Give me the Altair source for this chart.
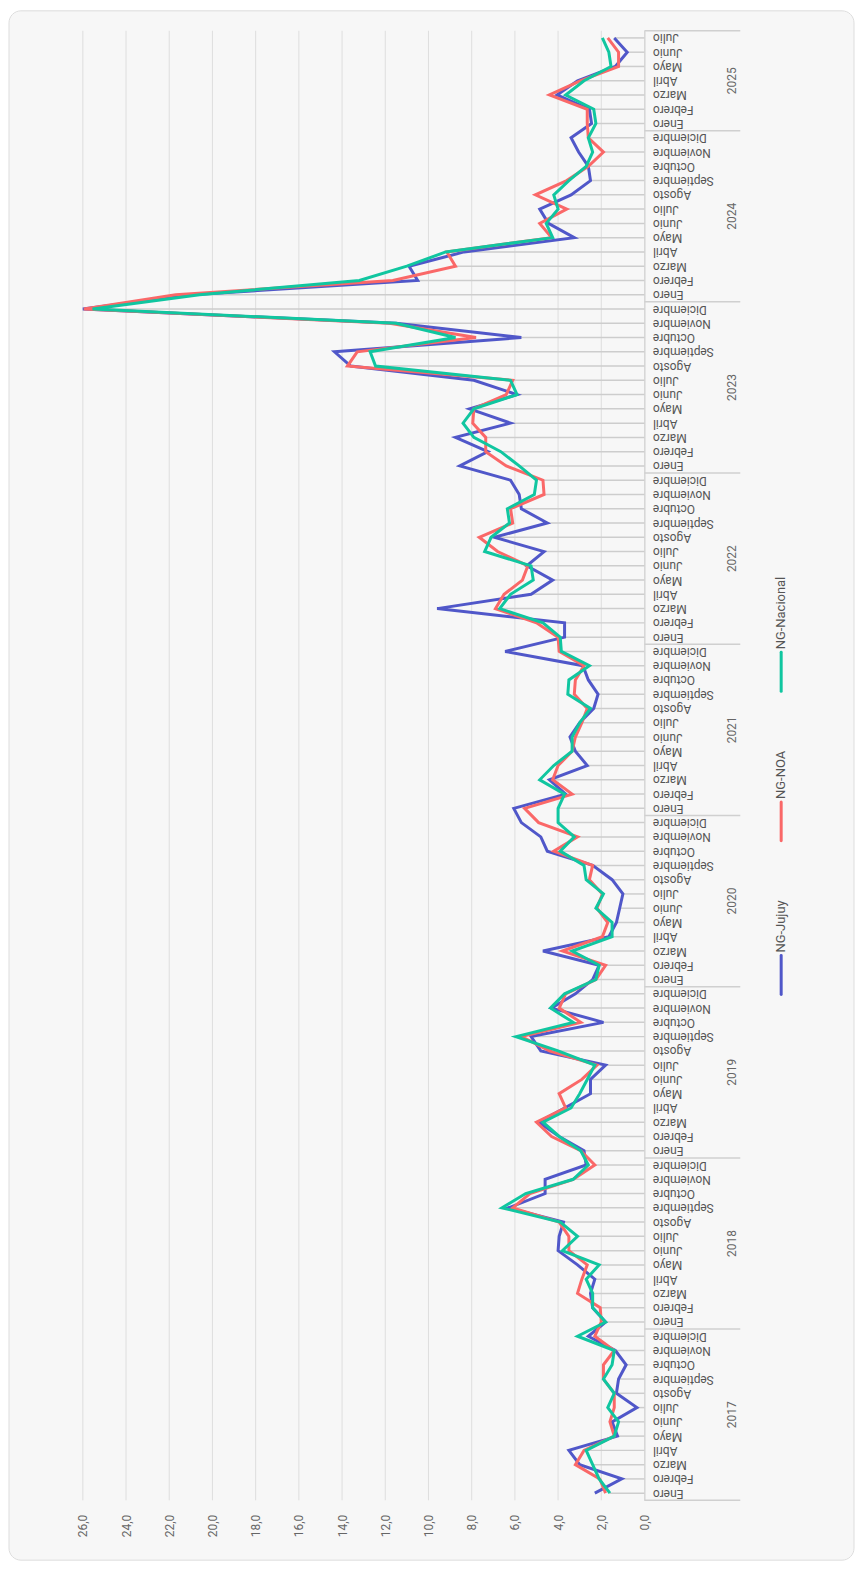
import altair as alt
import pandas as pd

meses = ["Enero", "Febrero", "Marzo", "Abril", "Mayo", "Junio", "Julio",
         "Agosto", "Septiembre", "Octubre", "Noviembre", "Diciembre"]
anios = [2017, 2018, 2019, 2020, 2021, 2022, 2023, 2024, 2025]
series = ["NG-Jujuy", "NG-NOA", "NG-Nacional"]
colores = ["#5057c9", "#fa6868", "#10c6a0"]
ticks_valor = [0, 2, 4, 6, 8, 10, 12, 14, 16, 18, 20, 22, 24, 26]

jujuy = [
    2.3, 1.05, 3.0, 3.5, 1.25, 1.5, 0.35, 1.3, 1.2, 0.85, 1.35, 2.6,
    1.8, 2.4, 2.5, 2.3, 3.1, 4.0, 3.95, 3.75, 6.3, 4.6, 4.6, 2.7,
    2.8, 3.95, 4.9, 3.7, 2.5, 2.5, 1.8, 4.8, 5.25, 1.9, 4.3, 3.2,
    2.4, 2.1, 4.7, 1.65, 1.3, 1.15, 1.0, 1.5, 2.4, 4.5, 4.8, 5.7,
    6.05, 3.65, 4.4, 2.65, 3.2, 3.45, 3.0, 2.35, 2.15, 2.6, 2.85, 6.45,
    3.7, 3.7, 9.6, 5.25, 4.25, 5.45, 4.65, 6.95, 4.5, 5.7, 5.8, 6.2,
    8.55, 7.25, 8.75, 6.2, 8.1, 5.9, 7.9, 13.6, 14.35, 5.7, 11.5, 26.0,
    21.0, 10.5, 10.9, 8.35, 3.25, 4.45, 4.85, 3.4, 2.5, 2.6, 3.05, 3.4,
    2.45, 2.55, 4.05, 3.1, 1.35, 0.8, 1.4,
]
noa = [
    1.8, 2.07, 3.2, 2.8, 1.4, 1.6, 1.4, 1.4, 1.9, 1.9, 1.4, 2.3,
    2.0, 2.05, 3.1, 2.9, 2.65, 3.5, 3.5, 3.95, 6.1, 5.3, 3.3, 2.3,
    2.95, 4.3, 5.0, 3.65, 3.95, 2.9, 2.2, 4.4, 5.7, 2.95, 3.95, 3.65,
    2.25, 1.8, 3.8, 1.95, 1.7, 2.2, 1.95, 2.55, 2.4, 4.2, 3.1, 4.9,
    5.55, 3.35, 4.25, 4.0, 3.35, 3.2, 2.9, 2.65, 3.25, 3.2, 2.8, 3.95,
    4.0, 5.0, 6.9, 6.5, 5.65, 5.4, 6.8, 7.65, 6.1, 6.2, 4.65, 4.7,
    6.4, 7.35, 7.35, 7.95, 7.9, 6.4, 6.1, 13.75, 13.3, 7.8, 11.8, 25.95,
    21.7, 11.65, 8.75, 9.15, 4.3, 4.85, 3.6, 5.05, 3.6, 2.6, 1.9, 2.6,
    2.65, 2.65, 4.4, 2.95, 1.2, 1.2, 1.7,
]
nacional = [
    1.6, 2.1, 2.4, 2.7, 1.4, 1.2, 1.7, 1.4, 1.9, 1.5, 1.4, 3.1,
    1.8, 2.4, 2.4, 2.7, 2.1, 3.8, 3.1, 3.9, 6.6, 5.5, 3.3, 2.6,
    2.95, 3.95, 4.7, 3.4, 3.0, 2.65, 2.3, 4.0, 5.95, 3.3, 4.35, 3.7,
    2.25, 2.1, 3.35, 1.5, 1.5, 2.25, 1.9, 2.7, 2.8, 3.9, 3.25, 4.0,
    4.0, 3.7, 4.85, 4.2, 3.35, 3.35, 3.0, 2.5, 3.55, 3.5, 2.55, 3.85,
    3.9, 4.7, 6.7, 6.2, 5.15, 5.25, 7.4, 7.1, 6.25, 6.35, 5.1, 5.0,
    5.8, 6.65, 7.9, 8.4, 7.9, 5.9, 6.2, 12.45, 12.7, 8.75, 11.5, 25.55,
    20.6, 13.2, 11.0, 9.2, 4.25, 4.55, 4.0, 4.2, 3.5, 2.7, 2.4, 2.6,
    2.25, 2.35, 3.65, 2.8, 1.55, 1.65, 1.95,
]

# month keys (Enero 2017 .. Julio 2025)
keys = []
for a in anios:
    for m in range(1, 13):
        if a == 2025 and m > 7:
            break
        keys.append(f"{a}-{m:02d}")

rows = []
for s, vals in zip(series, [jujuy, noa, nacional]):
    for i, (k, v) in enumerate(zip(keys, vals)):
        rows.append({"key": k, "idx": i, "serie": s, "valor": v})
df = pd.DataFrame(rows)

W = 563
H = 1473
N = len(keys)
half = H / N / 2
dominio = list(reversed(keys))

xscale = alt.Scale(domain=[0, 26], reverse=True, nice=False, zero=True)
yscale = alt.Scale(type="point", padding=0.5, domain=dominio)

month_expr = "[" + ",".join(f"'{m}'" for m in meses) + "][toNumber(slice(datum.value, 5)) - 1]"

x_axis = alt.Axis(values=ticks_valor, labelExpr="replace(format(datum.value, '.1f'), '.', ',')",
                  labelAngle=270, labelAlign="right", labelBaseline="middle",
                  labelPadding=14, ticks=False, tickSize=0, domain=False, grid=False,
                  title=None, labelFontSize=12, labelColor="#666666", zindex=1)
y_axis = alt.Axis(orient="right", labelExpr=month_expr, labelAngle=180, labelAlign="right",
                  labelBaseline="middle", labelPadding=8, ticks=False, tickSize=0,
                  domainColor="#d0d0d0", grid=False, title=None, labelOverlap=False,
                  labelFontSize=12, labelColor="#555555", zindex=1)

card = alt.Chart(pd.DataFrame({"a": [0]})).mark_rect(
    fill="#f7f7f7", stroke="#dddddd", strokeWidth=1, cornerRadius=12
).encode(x=alt.value(-74), x2=alt.value(773), y=alt.value(-20), y2=alt.value(1533))

grid = alt.Chart(pd.DataFrame({"v": ticks_valor})).mark_rule(
    color="#dedede", strokeWidth=1
).encode(x=alt.X("v:Q", scale=xscale, axis=x_axis), y=alt.value(0), y2=alt.value(H))

drops = alt.Chart(df).transform_aggregate(
    minv="min(valor)", groupby=["key"]
).mark_rule(color="#cdcdcd", strokeWidth=1.5).encode(
    y=alt.Y("key:N", scale=yscale, axis=y_axis),
    x=alt.X("minv:Q", scale=xscale),
    x2=alt.datum(0),
)

enero_keys = [k for k in keys if k.endswith("-01")]
sep_df = pd.DataFrame({"key": enero_keys})
seps = alt.Chart(sep_df).mark_rule(color="#d0d0d0", strokeWidth=1.5, yOffset=half).encode(
    y=alt.Y("key:N", scale=yscale), x=alt.value(W), x2=alt.value(W + 96)
)
top_sep = alt.Chart(pd.DataFrame({"key": [keys[-1]]})).mark_rule(
    color="#d0d0d0", strokeWidth=1.5, yOffset=-half
).encode(y=alt.Y("key:N", scale=yscale), x=alt.value(W), x2=alt.value(W + 96))

lines = alt.Chart(df).mark_line(strokeWidth=3).encode(
    y=alt.Y("key:N", scale=yscale),
    x=alt.X("valor:Q", scale=xscale),
    color=alt.Color("serie:N", scale=alt.Scale(domain=series, range=colores), legend=None),
    order=alt.Order("idx:Q"),
)

full_years = [a for a in anios if f"{a}-12" in keys]
yl_full = alt.Chart(pd.DataFrame({"key": [f"{a}-06" for a in full_years],
                                  "anio": [str(a) for a in full_years]})).mark_text(
    angle=270, align="center", baseline="middle", fontSize=12, color="#666666", yOffset=-half
).encode(y=alt.Y("key:N", scale=yscale), x=alt.value(651), text="anio:N")
yl_part = alt.Chart(pd.DataFrame({"key": ["2025-04"], "anio": ["2025"]})).mark_text(
    angle=270, align="center", baseline="middle", fontSize=12, color="#666666"
).encode(y=alt.Y("key:N", scale=yscale), x=alt.value(651), text="anio:N")

legend_layers = []
leg_bottom = [966, 812, 662]
for s, c, b in zip(series, colores, leg_bottom):
    sym = alt.Chart(pd.DataFrame({"serie": [s]})).mark_rule(
        color=c, strokeWidth=3, strokeCap="round"
    ).encode(x=alt.value(700), y=alt.value(b - 39), y2=alt.value(b))
    txt = alt.Chart(pd.DataFrame({"serie": [s]})).mark_text(
        angle=270, align="left", baseline="middle", fontSize=13, color="#555555"
    ).encode(x=alt.value(700), y=alt.value(b - 42), text="serie:N")
    legend_layers += [sym, txt]

chart = alt.layer(
    card, grid, drops, seps, top_sep, lines, yl_full, yl_part, *legend_layers
).properties(width=W, height=H, padding=0, background="white").configure(
    font="Roboto"
).configure_view(stroke=None)

chart.save("out.html", embed_options={"renderer": "svg", "actions": False})
